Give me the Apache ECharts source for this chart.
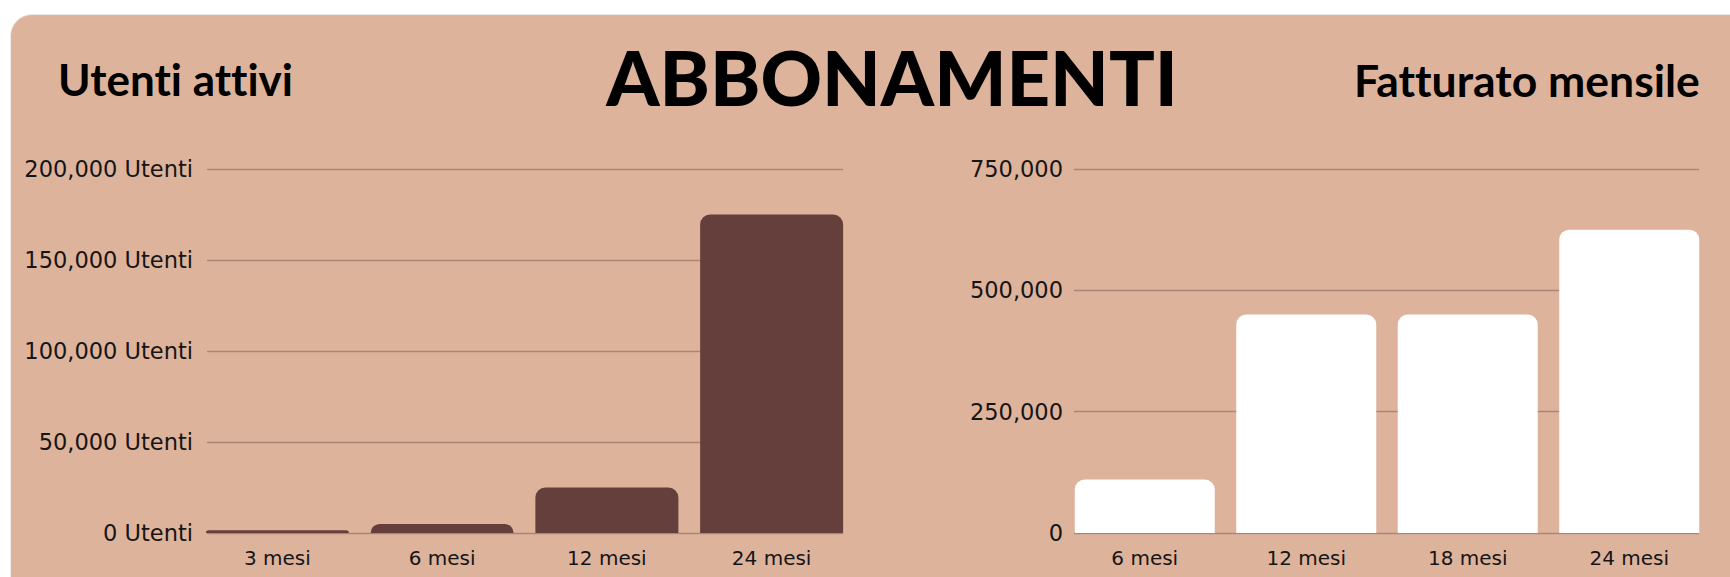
<!DOCTYPE html>
<html>
<head>
<meta charset="utf-8">
<script src="https://cdn.jsdelivr.net/npm/echarts@6/dist/echarts.min.js"></script>
<style>
  html, body { margin: 0; padding: 0; background: #ffffff; overflow: hidden; }
  #card { position: absolute; left: 10px; top: 14px; width: 1760px; height: 620px;
          background: #DEB39C; border-radius: 22px; border: 1px solid #ececec; box-sizing: border-box; }
  #chart { position: absolute; left: 0; top: 0; width: 1730px; height: 577px; }
  #chart text { font-variant-ligatures: none; font-feature-settings: "liga" 0, "clig" 0; }
</style>
</head>
<body>
<div id="card"></div>
<div id="chart"></div>
<script>
// ---- data ----
const mainTitle = 'ABBONAMENTI';
const usersTitle = 'Utenti attivi';
const revenueTitle = 'Fatturato mensile';

const usersCategories = ['3 mesi', '6 mesi', '12 mesi', '24 mesi'];
const usersValues = [1500, 5000, 25000, 175000];
const usersAxisMax = 200000;
const usersAxisStep = 50000;
const usersUnit = ' Utenti';

const revenueCategories = ['6 mesi', '12 mesi', '18 mesi', '24 mesi'];
const revenueValues = [110000, 450000, 450000, 625000];
const revenueAxisMax = 750000;
const revenueAxisStep = 250000;

// ---- styles ----
const GRID_LINE = '#A98777';
const TEXT = '#151515';
const USERS_BAR = '#653F3C';
const REVENUE_BAR = '#FFFFFF';
const AXIS_FONT = '"DejaVu Sans", "Noto Sans", sans-serif';
const TITLE_FONT = 'Lato, "Noto Sans", sans-serif';

const fmt = v => Number(v).toLocaleString('en-US');

const TOP = 169, HEIGHT = 364;

const chart = echarts.init(document.getElementById('chart'), null, { renderer: 'svg' });

const hiddenCat = (gi, data) => ({
  type: 'category', gridIndex: gi, data: data, show: false
});
const hiddenVal = (gi, max) => ({
  type: 'value', gridIndex: gi, min: 0, max: max, show: false, splitLine: { show: false }
});
const labelCat = (gi, data) => ({
  type: 'category', gridIndex: gi, data: data,
  axisLine: { show: false }, axisTick: { show: false },
  axisLabel: { color: TEXT, fontFamily: AXIS_FONT, fontSize: 20, margin: 15 }
});
const gridVal = (gi, max, step, formatter, margin) => ({
  type: 'value', gridIndex: gi, min: 0, max: max, interval: step,
  axisLine: { show: false }, axisTick: { show: false },
  axisLabel: { color: TEXT, fontFamily: AXIS_FONT, fontSize: 22.5, margin: margin, formatter: formatter },
  splitLine: { show: true, lineStyle: { color: GRID_LINE, width: 1.3 } }
});

chart.setOption({
  backgroundColor: 'transparent',
  animation: false,
  title: [
    { text: mainTitle, left: 887, top: 33, textAlign: 'center',
      textStyle: { fontFamily: TITLE_FONT, fontWeight: 900, fontSize: 76, color: '#000' } },
    { text: usersTitle, left: 53, top: 52,
      textStyle: { fontFamily: TITLE_FONT, fontWeight: 'bold', fontSize: 44, color: '#000' } },
    { text: revenueTitle, right: 27, top: 52,
      textStyle: { fontFamily: TITLE_FONT, fontWeight: 'bold', fontSize: 44.5, color: '#000' } }
  ],
  grid: [
    { left: 195, top: TOP, width: 659, height: HEIGHT },
    { left: 207, top: TOP, width: 636, height: HEIGHT },
    { left: 1064, top: TOP, width: 646, height: HEIGHT },
    { left: 1074, top: TOP, width: 625, height: HEIGHT }
  ],
  xAxis: [
    labelCat(0, usersCategories),
    hiddenCat(1, usersCategories),
    labelCat(2, revenueCategories),
    hiddenCat(3, revenueCategories)
  ],
  yAxis: [
    hiddenVal(0, usersAxisMax),
    gridVal(1, usersAxisMax, usersAxisStep, v => fmt(v) + usersUnit, 14),
    hiddenVal(2, revenueAxisMax),
    gridVal(3, revenueAxisMax, revenueAxisStep, v => fmt(v), 11)
  ],
  series: [
    { type: 'bar', xAxisIndex: 0, yAxisIndex: 0, data: usersValues, barWidth: 143, z: 5,
      itemStyle: { color: USERS_BAR, borderRadius: [10, 10, 0, 0] } },
    { type: 'bar', xAxisIndex: 2, yAxisIndex: 2, data: revenueValues, barWidth: 140, z: 5,
      itemStyle: { color: REVENUE_BAR, borderRadius: [10, 10, 0, 0] } }
  ]
});
</script>
</body>
</html>
